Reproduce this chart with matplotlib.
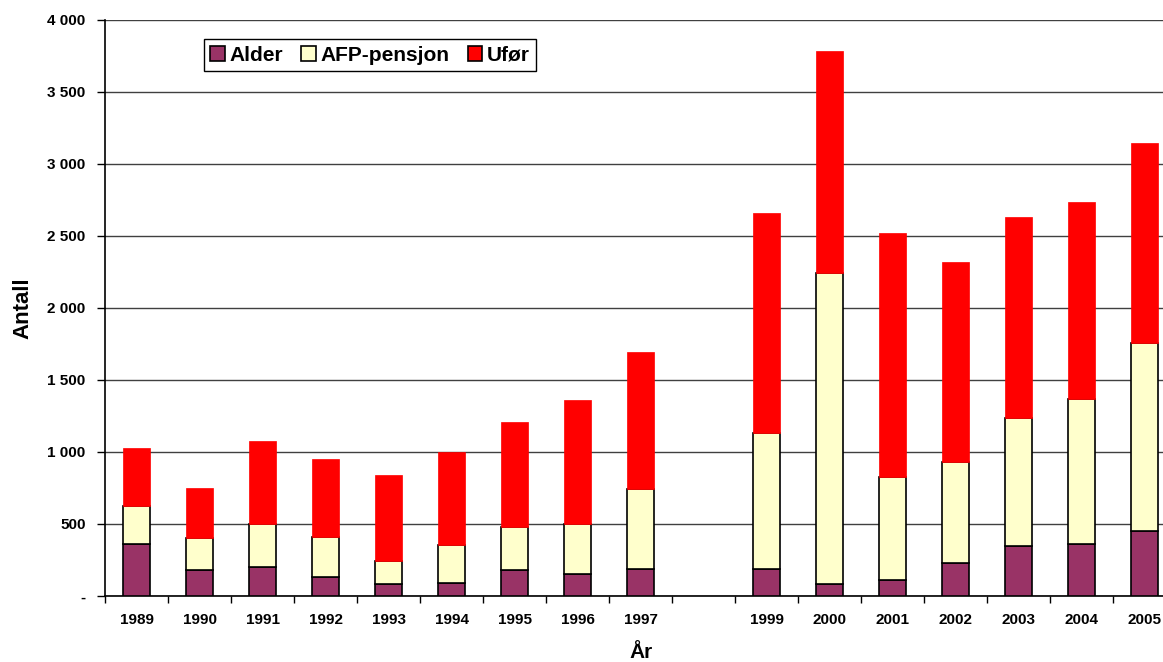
import matplotlib
matplotlib.use("Agg")
import matplotlib.pyplot as plt
from matplotlib.ticker import FuncFormatter, MultipleLocator
import numpy as np

# Data (1998 is missing in the source)
years = [1989, 1990, 1991, 1992, 1993, 1994, 1995, 1996, 1997,
         1999, 2000, 2001, 2002, 2003, 2004, 2005]
# cumulative tops
alder_top = [361, 180, 201, 131, 82, 89, 178, 155, 185,
             187, 85, 113, 229, 345, 364, 452]
afp_top = [622, 405, 498, 412, 245, 357, 482, 503, 740,
           1134, 2240, 824, 928, 1235, 1364, 1753]
total_top = [1026, 751, 1074, 949, 842, 1002, 1207, 1360, 1695,
             2656, 3780, 2522, 2320, 2627, 2737, 3145]

alder = np.array(alder_top)
afp = np.array(afp_top) - alder
ufor = np.array(total_top) - np.array(afp_top)

series_names = ["Alder", "AFP-pensjon", "Ufør"]
colors = ["#993366", "#FFFFCC", "#FF0000"]

plt.rcParams["font.family"] = ["Liberation Sans", "DejaVu Sans"]
plt.rcParams["font.weight"] = "bold"

fig = plt.figure(figsize=(11.63, 6.62), dpi=100)
ax = fig.add_axes([0.0903, 0.0997, 0.921, 0.8708])

w = 0.42
ax.bar(years, alder, w, color=colors[0], edgecolor="black", linewidth=1.2,
       label=series_names[0], zorder=3)
ax.bar(years, afp, w, bottom=alder, color=colors[1], edgecolor="black",
       linewidth=1.2, label=series_names[1], zorder=3)
ax.bar(years, ufor, w, bottom=alder + afp, color=colors[2], edgecolor=colors[2],
       linewidth=0.5, label=series_names[2], zorder=3)

ax.set_xlim(1988.5, 2005.5)
ax.set_ylim(0, 4000)
ax.yaxis.set_major_locator(MultipleLocator(500))


def fmt_thousands(v, pos):
    if v == 0:
        return "-"
    return f"{int(v):,}".replace(",", " ")


ax.yaxis.set_major_formatter(FuncFormatter(fmt_thousands))
ax.grid(axis="y", color="#404040", linewidth=1.0, zorder=0)

ax.set_xticks(years)
ax.set_xticklabels([str(y) for y in years], fontsize=11, fontweight="bold")
ax.set_xticks(np.arange(1988.5, 2006, 1.0), minor=True)
ax.tick_params(axis="x", which="major", length=0, pad=12)
ax.tick_params(axis="x", which="minor", length=5, width=1, direction="out")
ax.tick_params(axis="y", length=6, width=1, direction="out", labelsize=11, pad=8)
for lab in ax.get_yticklabels():
    lab.set_fontweight("bold")

for side in ["top", "right"]:
    ax.spines[side].set_visible(False)
ax.spines["left"].set_linewidth(1.2)
ax.spines["bottom"].set_linewidth(1.2)

ax.set_ylabel("Antall", fontsize=16, fontweight="bold", labelpad=10)
ax.set_xlabel("År", fontsize=15, fontweight="bold", labelpad=12)

leg = ax.legend(loc="upper left", bbox_to_anchor=(0.0924, 0.9656),
                borderaxespad=0, ncol=3,
                fontsize=15, frameon=True, fancybox=False, framealpha=1,
                edgecolor="black", handlelength=0.7, handleheight=0.7,
                handletextpad=0.2, columnspacing=0.9, borderpad=0.3)
leg.get_frame().set_linewidth(1.0)
for t in leg.get_texts():
    t.set_fontweight("bold")
for h in leg.legend_handles:
    h.set_edgecolor("black")
    h.set_linewidth(1.2)

fig.savefig("out.png", dpi=100)
